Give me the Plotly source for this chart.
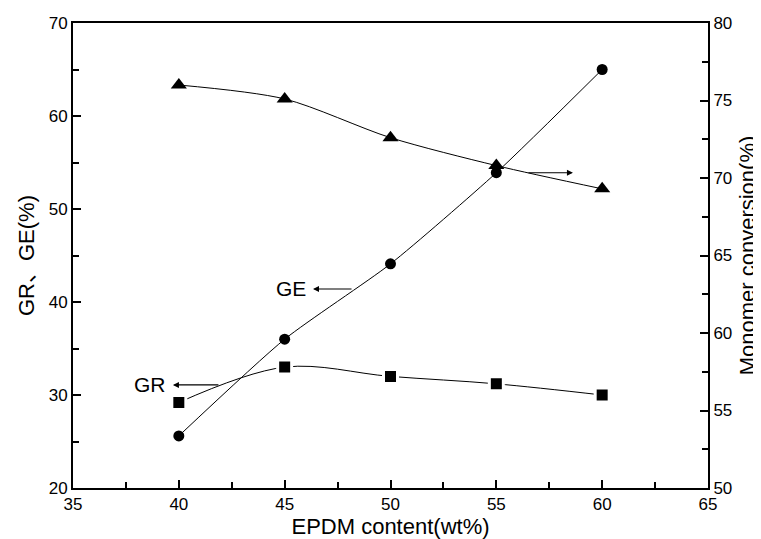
import plotly.graph_objects as go

epdm = [40, 45, 50, 55, 60]
gr = [29.2, 33.0, 32.0, 31.2, 30.0]
ge = [25.6, 36.0, 44.1, 53.9, 65.0]
conversion = [76.0, 75.1, 72.6, 70.8, 69.3]

x_ticks = [35, 40, 45, 50, 55, 60, 65]
y_ticks = [20, 30, 40, 50, 60, 70]
y2_ticks = [50, 55, 60, 65, 70, 75, 80]

FONT = "Liberation Sans, Arial, Noto Sans CJK SC, sans-serif"

def line_style(s):
    return dict(color="black", width=1, shape="spline", smoothing=s)

fig = go.Figure()
fig.add_trace(go.Scatter(x=epdm, y=gr, mode="lines+markers", line=line_style(1.0),
                         marker=dict(symbol="square", size=14, color="black",
                                     line=dict(color="white", width=3)),
                         showlegend=False))
fig.add_trace(go.Scatter(x=epdm, y=ge, mode="lines+markers", line=line_style(0.6),
                         marker=dict(symbol="circle", size=11, color="black"),
                         showlegend=False))
fig.add_trace(go.Scatter(x=epdm, y=conversion, mode="lines+markers", line=line_style(0.8),
                         marker=dict(symbol="triangle-up", size=14, color="black"),
                         yaxis="y2", showlegend=False))

axis_common = dict(showline=True, linecolor="black", linewidth=2, ticks="inside",
                   ticklen=8, tickwidth=2, tickcolor="black", showgrid=False,
                   zeroline=False, automargin=False,
                   tickfont=dict(size=17, color="black", family=FONT))
minor_common = dict(ticks="inside", ticklen=6, tickwidth=2, tickcolor="black")

# page body has an 8px default margin: size the figure to the visible area
fig.update_layout(
    width=753, height=531,
    margin=dict(l=65, r=53, t=15, b=51),
    paper_bgcolor="white", plot_bgcolor="white",
    font=dict(family=FONT, color="black"),
    xaxis=dict(range=[35, 65], tickvals=x_ticks, mirror=True,
               minor=dict(dtick=2.5, **minor_common),
               title=dict(text="EPDM content(wt%)", font=dict(size=22, family=FONT), standoff=4),
               **axis_common),
    yaxis=dict(range=[20, 70], tickvals=y_ticks,
               minor=dict(dtick=5, **minor_common),
               title=dict(text="GR、GE(%)", font=dict(size=22, family=FONT), standoff=8),
               **axis_common),
    yaxis2=dict(range=[50, 80], tickvals=y2_ticks, overlaying="y", side="right",
                minor=dict(dtick=2.5, **minor_common),
                title=dict(text="Monomer conversion(%)", font=dict(size=22, family=FONT), standoff=8),
                **axis_common),
)

arrow = dict(showarrow=True, arrowhead=2, arrowsize=1, arrowwidth=1.2,
             arrowcolor="black", text="", axref="pixel", ayref="pixel")
fig.add_annotation(x=46.34, y=41.4, ax=40, ay=0, xref="x", yref="y", **arrow)
fig.add_annotation(x=46.10, y=41.4, text="GE", showarrow=False, xanchor="right",
                   font=dict(size=21, family=FONT, color="black"))
fig.add_annotation(x=39.72, y=31.08, ax=47, ay=0, xref="x", yref="y", **arrow)
fig.add_annotation(x=39.49, y=31.08, text="GR", showarrow=False, xanchor="right",
                   font=dict(size=21, family=FONT, color="black"))
fig.add_annotation(x=58.62, y=70.34, ax=-46, ay=0, xref="x", yref="y2", **arrow)

fig.write_html("out.html")
